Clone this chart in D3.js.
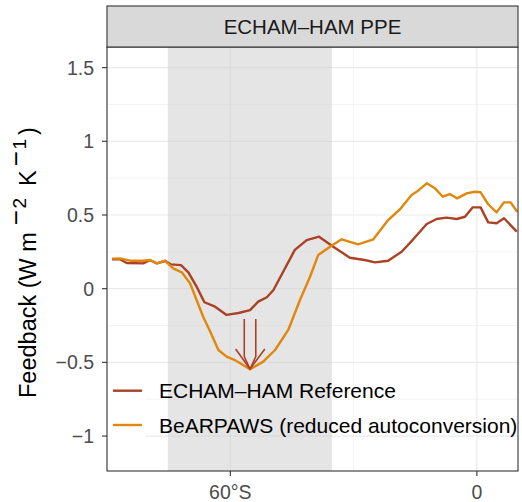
<!DOCTYPE html>
<html>
<head>
<meta charset="utf-8">
<script src="https://cdn.jsdelivr.net/npm/d3@7"></script>
<style>
  body { margin: 0; background: #fff; }
  svg { font-family: "Liberation Sans", Arial, Helvetica, sans-serif; }
</style>
</head>
<body>
<div id="chart"></div>
<script>
// DATA
// ----------------------------------------
const PANEL_TITLE = "ECHAM\u2013HAM PPE";
const SERIES_NAMES = ["ECHAM\u2013HAM Reference", "BeARPAWS (reduced autoconversion)"];

const REF_LAT = [-88.8, -86.8, -85.2, -81.2, -79.5, -77.9, -75.8, -74.5, -72.0, -70.2, -68.2, -66.3,
    -63.7, -60.9, -58.0, -55.2, -53.2, -51.1, -49.5, -44.3, -41.4, -38.4, -34.95, -30.9, -27.3, -24.8,
    -21.6, -18.3, -15.5, -12.2, -9.8, -7.4, -4.9, -2.9, -1.0, 0.9, 2.75, 4.8, 6.6, 9.7];
const REF_VAL = [0.199, 0.200, 0.174, 0.172, 0.193, 0.172, 0.188, 0.165, 0.160, 0.111, 0.014, -0.092,
    -0.122, -0.178, -0.165, -0.145, -0.088, -0.058, -0.009, 0.263, 0.330, 0.353, 0.285, 0.210, 0.195, 0.179,
    0.190, 0.251, 0.335, 0.439, 0.473, 0.482, 0.473, 0.488, 0.552, 0.552, 0.450, 0.444, 0.478, 0.387];

const BEAR_LAT = [-88.8, -86.8, -84.4, -81.2, -79.5, -77.8, -75.9, -73.9, -71.8, -69.8, -66.6, -64.9,
    -62.9, -60.9, -58.9, -55.2, -52.0, -49.1, -45.9, -43.05, -40.6, -38.6, -35.75, -32.9, -28.9, -25.2,
    -21.6, -18.7, -15.9, -14.3, -12.2, -10.2, -8.3, -6.6, -4.8, -2.5, -0.5, 0.9, 2.75, 4.8, 6.6, 8.2, 9.8];
const BEAR_VAL = [0.204, 0.206, 0.190, 0.190, 0.195, 0.172, 0.190, 0.138, 0.111, 0.037, -0.190, -0.290,
    -0.416, -0.461, -0.484, -0.547, -0.495, -0.416, -0.280, -0.077, 0.081, 0.229, 0.285, 0.335, 0.301, 0.335,
    0.466, 0.539, 0.636, 0.665, 0.715, 0.681, 0.624, 0.642, 0.613, 0.647, 0.658, 0.654, 0.573, 0.518, 0.586, 0.586, 0.522];

// shaded latitude band
const BAND = [-75.2, -35.3];

// "double" arrow annotation, in data units (lat, feedback)
const ARROW_SHAFTS = [[[-56.6, -0.206], [-56.6, -0.46], [-55.2, -0.545]],
                      [[-53.8, -0.206], [-53.8, -0.46], [-55.2, -0.545]]];
const ARROW_HEAD = [[-58.7, -0.409], [-55.2, -0.545], [-51.6, -0.409]];

// axes
const X_DOMAIN = [-90, 10];
const Y_DOMAIN = [-1.237, 1.64];
const X_TICKS = [-60, 0];
const X_TICK_LABELS = ["60\u00b0S", "0"];
const X_MINOR = [-90, -30];
const Y_TICKS = [-1, -0.5, 0, 0.5, 1, 1.5];
const Y_TICK_LABELS = ["\u22121", "\u22120.5", "0", "0.5", "1", "1.5"];
const Y_MINOR = [-0.75, -0.25, 0.25, 0.75, 1.25];

// LAYOUT / STYLE
// ----------------------------------------
const WIDTH = 522, HEIGHT = 502;
const PANEL = { left: 107, right: 518, top: 47, bottom: 471 };
const STRIP_TOP = 6;
const COLORS = ["#ab4125", "#e0870c"];
const GRID_COLOR = "#ebebeb";
const TEXT_GREY = "#4d4d4d";

// MAIN
// ----------------------------------------
function drawChart() {
    const svg = d3.select("#chart").append("svg")
        .attr("width", WIDTH)
        .attr("height", HEIGHT);

    const x = d3.scaleLinear().domain(X_DOMAIN).range([PANEL.left, PANEL.right]);
    const y = d3.scaleLinear().domain(Y_DOMAIN).range([PANEL.bottom, PANEL.top]);

    svg.append("defs").append("clipPath").attr("id", "panel-clip")
        .append("rect")
        .attr("x", PANEL.left).attr("y", PANEL.top)
        .attr("width", PANEL.right - PANEL.left).attr("height", PANEL.bottom - PANEL.top);

    // Grid lines
    const grid = svg.append("g");
    grid.selectAll(".ymin").data(Y_MINOR).enter().append("line")
        .attr("x1", PANEL.left).attr("x2", PANEL.right)
        .attr("y1", d => y(d)).attr("y2", d => y(d))
        .attr("stroke", GRID_COLOR).attr("stroke-width", 0.6);
    grid.selectAll(".xmin").data(X_MINOR).enter().append("line")
        .attr("y1", PANEL.top).attr("y2", PANEL.bottom)
        .attr("x1", d => x(d)).attr("x2", d => x(d))
        .attr("stroke", GRID_COLOR).attr("stroke-width", 0.6);
    grid.selectAll(".ymaj").data(Y_TICKS).enter().append("line")
        .attr("x1", PANEL.left).attr("x2", PANEL.right)
        .attr("y1", d => y(d)).attr("y2", d => y(d))
        .attr("stroke", GRID_COLOR).attr("stroke-width", 1.2);
    grid.selectAll(".xmaj").data(X_TICKS).enter().append("line")
        .attr("y1", PANEL.top).attr("y2", PANEL.bottom)
        .attr("x1", d => x(d)).attr("x2", d => x(d))
        .attr("stroke", GRID_COLOR).attr("stroke-width", 1.2);

    // Shaded band
    svg.append("rect")
        .attr("x", x(BAND[0])).attr("width", x(BAND[1]) - x(BAND[0]))
        .attr("y", PANEL.top).attr("height", PANEL.bottom - PANEL.top)
        .attr("fill", "#cccccc").attr("fill-opacity", 0.5);

    // Lines
    const line = d3.line().x(d => x(d[0])).y(d => y(d[1]));
    const series = [d3.zip(REF_LAT, REF_VAL), d3.zip(BEAR_LAT, BEAR_VAL)];
    const lines = svg.append("g").attr("clip-path", "url(#panel-clip)");
    lines.selectAll("path").data(series).enter().append("path")
        .attr("d", line)
        .attr("fill", "none")
        .attr("stroke", (d, i) => COLORS[i])
        .attr("stroke-width", 2.4)
        .attr("stroke-linejoin", "round");

    // Arrow annotation
    const arrow = svg.append("g")
        .attr("fill", "none").attr("stroke", COLORS[0])
        .attr("stroke-width", 1.6).attr("stroke-linejoin", "miter");
    ARROW_SHAFTS.forEach(s => arrow.append("path").attr("d", line(s)));
    arrow.append("path").attr("d", line(ARROW_HEAD));

    drawLegend(svg);

    // Panel border
    svg.append("rect")
        .attr("x", PANEL.left).attr("y", PANEL.top)
        .attr("width", PANEL.right - PANEL.left).attr("height", PANEL.bottom - PANEL.top)
        .attr("fill", "none").attr("stroke", "#333333").attr("stroke-width", 1.1);

    // Strip
    svg.append("rect")
        .attr("x", PANEL.left).attr("y", STRIP_TOP)
        .attr("width", PANEL.right - PANEL.left).attr("height", PANEL.top - STRIP_TOP)
        .attr("fill", "#d9d9d9").attr("stroke", "#333333").attr("stroke-width", 1.1);
    svg.append("text")
        .attr("x", (PANEL.left + PANEL.right) / 2).attr("y", (STRIP_TOP + PANEL.top) / 2)
        .attr("text-anchor", "middle").attr("dominant-baseline", "central")
        .attr("font-size", 20.5).attr("fill", "#1a1a1a")
        .text(PANEL_TITLE);

    // Y axis
    const yAxis = svg.append("g");
    yAxis.selectAll("line").data(Y_TICKS).enter().append("line")
        .attr("x1", PANEL.left - 5).attr("x2", PANEL.left)
        .attr("y1", d => y(d)).attr("y2", d => y(d))
        .attr("stroke", "#333333").attr("stroke-width", 1.1);
    yAxis.selectAll("text").data(Y_TICKS).enter().append("text")
        .attr("x", PANEL.left - 13).attr("y", d => y(d))
        .attr("text-anchor", "end").attr("dominant-baseline", "central")
        .attr("font-size", 19.5).attr("fill", TEXT_GREY)
        .text((d, i) => Y_TICK_LABELS[i]);

    // X axis
    const xAxis = svg.append("g");
    xAxis.selectAll("line").data(X_TICKS).enter().append("line")
        .attr("y1", PANEL.bottom).attr("y2", PANEL.bottom + 5)
        .attr("x1", d => x(d)).attr("x2", d => x(d))
        .attr("stroke", "#333333").attr("stroke-width", 1.1);
    xAxis.selectAll("text").data(X_TICKS).enter().append("text")
        .attr("x", d => x(d)).attr("y", 499)
        .attr("text-anchor", "middle")
        .attr("font-size", 19.5).attr("fill", TEXT_GREY)
        .text((d, i) => X_TICK_LABELS[i]);

    drawYTitle(svg);
}

// HELPER FUNCTIONS
// ----------------------------------------
function drawYTitle(svg) {
    // plotmath-like spacing: base text, then raised exponents with wide minus signs
    const title = svg.append("text")
        .attr("transform", "translate(35.5, 398) rotate(-90)")
        .attr("text-anchor", "start")
        .attr("font-size", 23.5).attr("fill", "#000");
    title.append("tspan").text("Feedback (W m");
    title.append("tspan").attr("dy", -10.5).attr("dx", 7).attr("font-size", 26).text("\u2212");
    title.append("tspan").attr("dy", 0.5).attr("dx", 1.5).attr("font-size", 19).text("2");
    title.append("tspan").attr("dy", 10).attr("dx", 12).text("K");
    title.append("tspan").attr("dy", -10.5).attr("dx", 4).attr("font-size", 26).text("\u2212");
    title.append("tspan").attr("dy", 0.5).attr("dx", 1.5).attr("font-size", 19).text("1");
    title.append("tspan").attr("dy", 10).attr("dx", 4).text(")");
}

function drawLegend(svg) {
    const keyY = [390.7, 425];
    const legend = svg.append("g");
    legend.append("rect")
        .attr("x", PANEL.left + 0.5).attr("y", 377)
        .attr("width", 38).attr("height", 61)
        .attr("fill", "#fff");
    SERIES_NAMES.forEach((name, i) => {
        legend.append("line")
            .attr("x1", 113).attr("x2", 142)
            .attr("y1", keyY[i]).attr("y2", keyY[i])
            .attr("stroke", COLORS[i]).attr("stroke-width", 2.4);
        legend.append("text")
            .attr("x", 159).attr("y", keyY[i])
            .attr("dominant-baseline", "central")
            .attr("font-size", 21).attr("fill", "#000")
            .text(name);
    });
}

// INIT
// ----------------------------------------
drawChart();
</script>
</body>
</html>
